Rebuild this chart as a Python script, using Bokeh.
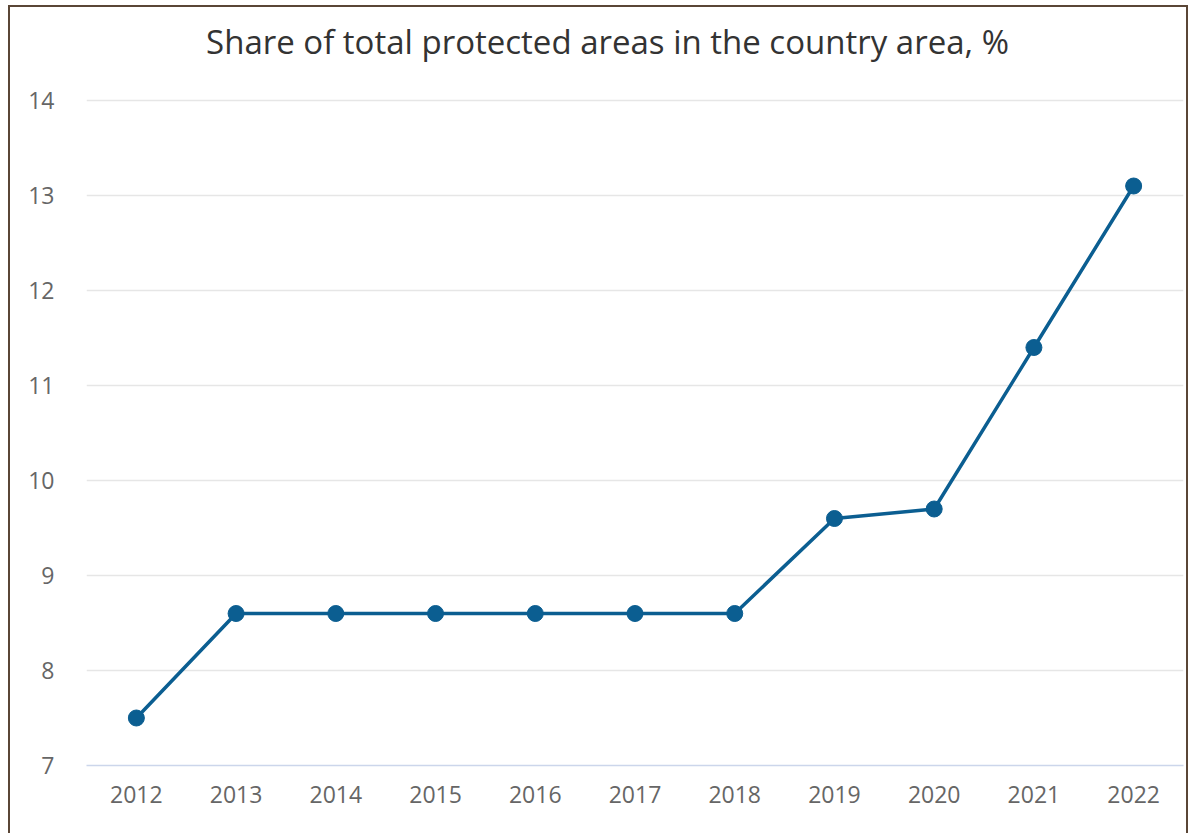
from bokeh.plotting import figure
from bokeh.models import ColumnDataSource, FactorRange, Range1d, FixedTicker, Label
from bokeh.embed import file_html
from bokeh.resources import INLINE

title_text = "Share of total protected areas in the country area, %"
years = ["2012", "2013", "2014", "2015", "2016", "2017", "2018", "2019", "2020", "2021", "2022"]
share = [7.5, 8.6, 8.6, 8.6, 8.6, 8.6, 8.6, 9.6, 9.7, 11.4, 13.1]
y_ticks = [7, 8, 9, 10, 11, 12, 13, 14]

src = ColumnDataSource(data=dict(x=years, y=share))

W, H = 1180, 828
BOTTOM = 70
TOP_SPACE = 93            # px above the 14 gridline reserved for the title
PX_PER_UNIT = (H - BOTTOM - TOP_SPACE) / (y_ticks[-1] - y_ticks[0])
y_end = y_ticks[-1] + TOP_SPACE / PX_PER_UNIT

p = figure(
    width=W, height=H,
    x_range=FactorRange(*years), y_range=Range1d(y_ticks[0], y_end),
    output_backend="svg", toolbar_location=None,
    min_border_left=76, min_border_right=7, min_border_top=0, min_border_bottom=BOTTOM,
)
p.styles = {"margin-left": "8px", "margin-top": "5px",
            "border-left": "2px solid #5a4636", "border-top": "2px solid #5a4636",
            "border-right": "2px solid #5a4636"}

# screen units are measured from the frame's bottom-left corner
title = Label(x=521, y=H - BOTTOM - 34, x_units="screen", y_units="screen", text=title_text,
              text_align="center", text_baseline="alphabetic",
              text_font="Open Sans", text_font_size="33px", text_color="#333333")
p.add_layout(title)

p.outline_line_color = None
p.background_fill_color = "white"
p.border_fill_color = "white"

p.xgrid.grid_line_color = None
p.ygrid.grid_line_color = "#e6e6e6"
p.ygrid.grid_line_width = 1.5

p.yaxis.ticker = FixedTicker(ticks=y_ticks)
p.yaxis.axis_line_color = None
p.yaxis.major_tick_line_color = None
p.yaxis.minor_tick_line_color = None
p.yaxis.major_label_standoff = 26
p.yaxis.major_label_text_font = "Open Sans"
p.yaxis.major_label_text_font_size = "23px"
p.yaxis.major_label_text_color = "#666666"

p.xaxis.axis_line_color = "#ccd6eb"
p.xaxis.axis_line_width = 1.5
p.xaxis.major_tick_line_color = None
p.xaxis.minor_tick_line_color = None
p.xaxis.major_label_standoff = 14
p.xaxis.major_label_text_font = "Open Sans"
p.xaxis.major_label_text_font_size = "23px"
p.xaxis.major_label_text_color = "#666666"

p.line("x", "y", source=src, line_color="#0b5e91", line_width=3.5)
p.scatter("x", "y", source=src, size=16, fill_color="#0b5e91", line_color="#0b5e91")

open("out.html", "w").write(file_html(p, INLINE))
